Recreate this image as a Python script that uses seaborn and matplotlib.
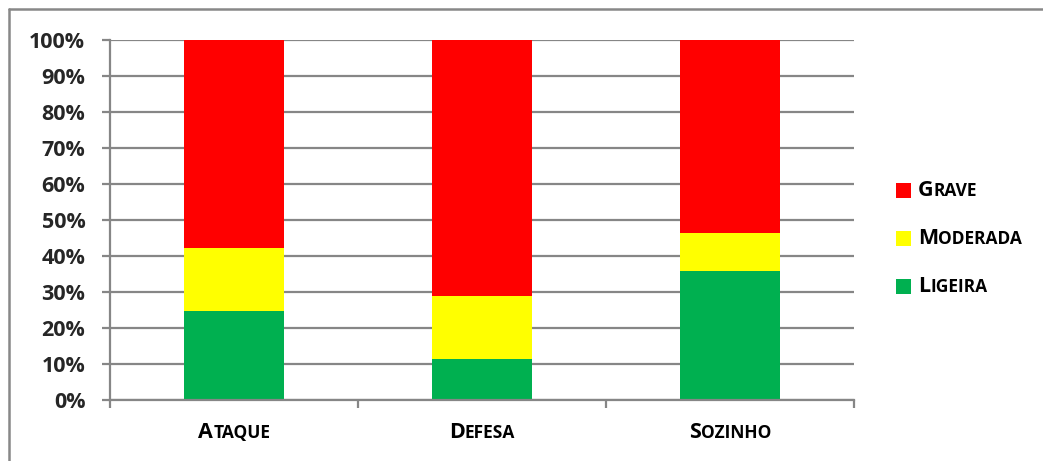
import numpy as np
import pandas as pd
import seaborn as sns
import matplotlib
matplotlib.use("Agg")
import matplotlib.pyplot as plt
from matplotlib.offsetbox import TextArea, HPacker, AnnotationBbox, DrawingArea
from matplotlib.patches import Rectangle
from matplotlib.lines import Line2D

# Share of injuries by severity for each situation (percent)
categories = ["Ataque", "Defesa", "Sozinho"]
ligeira = [24.6, 11.3, 35.7]
moderada = [17.6, 17.5, 10.8]
grave = [57.8, 71.2, 53.5]
series_names = ["Grave", "Moderada", "Ligeira"]
series_colors = {"Grave": "#FF0000", "Moderada": "#FFFF00", "Ligeira": "#00B050"}
y_ticks = list(range(0, 101, 10))

sns.set_theme(style="white")
plt.rcParams["font.family"] = ["Open Sans", "DejaVu Sans"]
plt.rcParams["font.weight"] = "bold"

W, H = 1043, 461
fig = plt.figure(figsize=(W / 100, H / 100), dpi=100)
ax = fig.add_axes([110 / W, 61 / H, 744 / W, 360 / H])

df = pd.DataFrame({"categoria": categories, "Ligeira": ligeira,
                   "Moderada": moderada, "Grave": grave})
df["Moderada_top"] = df["Ligeira"] + df["Moderada"]
df["Grave_top"] = df["Moderada_top"] + df["Grave"]

grid_color = "#868686"
ax.set_axisbelow(True)
ax.yaxis.grid(True, color=grid_color, linewidth=1.6)
ax.xaxis.grid(False)

# stacked bars: draw cumulative tops from the largest down
for col, name in [("Grave_top", "Grave"), ("Moderada_top", "Moderada"), ("Ligeira", "Ligeira")]:
    sns.barplot(data=df, x="categoria", y=col, order=categories,
                color=series_colors[name], width=0.4, saturation=1,
                edgecolor="none", linewidth=0, ax=ax, errorbar=None)

ax.set_xlim(-0.5, 2.5)
ax.set_ylim(0, 100)
ax.set_xlabel("")
ax.set_ylabel("")

ax.set_yticks(y_ticks)
ax.set_yticklabels([f"{t}%" for t in y_ticks], fontsize=15.5, fontweight="bold")
ax.tick_params(axis="y", left=True, length=5.8, width=1.6, color=grid_color, pad=12)

# category boundary ticks, labels drawn separately in small caps
ax.set_xticks([-0.5, 0.5, 1.5, 2.5])
ax.set_xticklabels([])
ax.tick_params(axis="x", bottom=True, length=5.8, width=1.6, color=grid_color)

for side in ["top", "right"]:
    ax.spines[side].set_visible(False)
for side in ["left", "bottom"]:
    ax.spines[side].set_color(grid_color)
    ax.spines[side].set_linewidth(1.6)


def small_caps(word, big, small):
    first = TextArea(word[0].upper(), textprops=dict(fontsize=big, fontweight="bold", color="black"))
    rest = TextArea(word[1:].upper(), textprops=dict(fontsize=small, fontweight="bold", color="black"))
    return HPacker(children=[first, rest], align="baseline", pad=0, sep=0.3)


for i, cat in enumerate(categories):
    ab = AnnotationBbox(small_caps(cat, 15.5, 12.5), (i, 0),
                        xycoords=("data", "axes fraction"),
                        xybox=(0, -16), boxcoords="offset points",
                        box_alignment=(0.5, 1), frameon=False, pad=0)
    ax.add_artist(ab)

# legend
legend_y = [190, 238, 286]
for name, yp in zip(series_names, legend_y):
    da = DrawingArea(10.8, 10.8, 0, 0)
    da.add_artist(Rectangle((0, 0), 10.8, 10.8, facecolor=series_colors[name], edgecolor="none"))
    row = HPacker(children=[da, small_caps(name, 15.5, 12.5)], align="center", pad=0, sep=5)
    ab = AnnotationBbox(row, (896, H - yp), xycoords="figure pixels",
                        box_alignment=(0, 0.5), frameon=False, pad=0)
    fig.add_artist(ab)

# outer chart frame (top and left edges)
fx = 8.5 / W
fy = 1 - 9.5 / H
fig.add_artist(Line2D([fx, 1], [fy, fy], transform=fig.transFigure, color="#888888", lw=1.8))
fig.add_artist(Line2D([fx, fx], [0, fy], transform=fig.transFigure, color="#888888", lw=1.8))

fig.savefig("out.png", dpi=100)
